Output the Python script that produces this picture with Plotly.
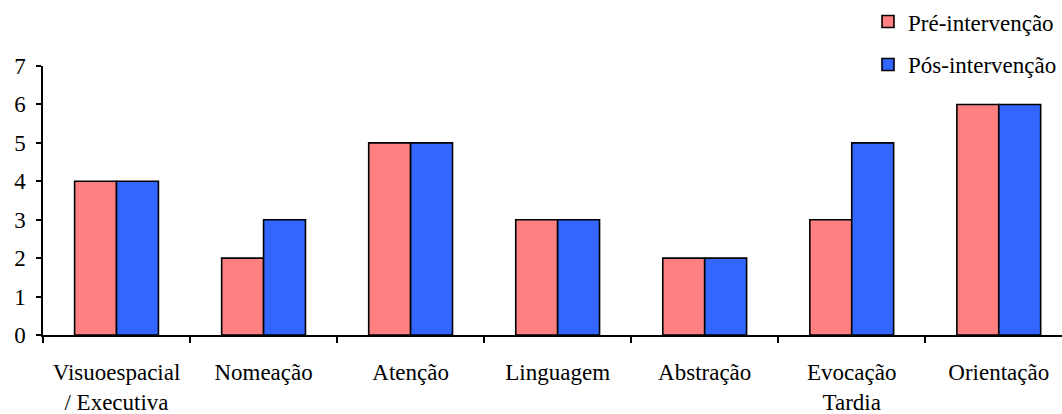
import plotly.graph_objects as go

categories = ["Visuoespacial<br>/ Executiva", "Nomeação", "Atenção", "Linguagem",
              "Abstração", "Evocação<br>Tardia", "Orientação"]
pre = [4, 2, 5, 3, 2, 3, 6]
pos = [4, 3, 5, 3, 2, 5, 6]
series_names = ["Pré-intervenção", "Pós-intervenção"]
y_ticks = [0, 1, 2, 3, 4, 5, 6, 7]

FONT = "Liberation Serif"

fig = go.Figure()
fig.add_trace(go.Bar(x=categories, y=pre, name=series_names[0], legendgroup="a",
                     marker=dict(color="#FF8080", line=dict(color="black", width=1.6))))
fig.add_trace(go.Bar(x=categories, y=pos, name=series_names[1], legendgroup="b",
                     marker=dict(color="#3366FF", line=dict(color="black", width=1.6))))

fig.update_layout(
    width=1062, height=414,
    margin=dict(l=43, r=0, t=66, b=79),
    paper_bgcolor="white", plot_bgcolor="white",
    font=dict(family=FONT, size=23, color="black"),
    barmode="group", bargap=0.43, bargroupgap=0,
    legend=dict(x=1, xanchor="right", y=1.245, yanchor="top",
                tracegroupgap=10, font=dict(family=FONT, size=23),
                bgcolor="rgba(0,0,0,0)", itemclick=False),
    xaxis=dict(range=[-0.5, 6.43], showline=True, linecolor="black", linewidth=1.5,
               ticks="outside", tickson="boundaries", ticklen=6, tickwidth=1.5,
               tickcolor="black", showgrid=False, zeroline=False, fixedrange=True,
               ticklabelstandoff=16, tickfont=dict(family=FONT, size=23)),
    yaxis=dict(range=[0, 7], tickvals=y_ticks, showline=True, linecolor="black",
               linewidth=1.5, ticks="outside", ticklen=5, tickwidth=1.5,
               tickcolor="black", showgrid=False, zeroline=False, fixedrange=True,
               ticklabelstandoff=6, tickfont=dict(family=FONT, size=23)),
)

fig.write_html("out.html", config={"displayModeBar": False},
               post_script="document.body.style.margin='0px';")
